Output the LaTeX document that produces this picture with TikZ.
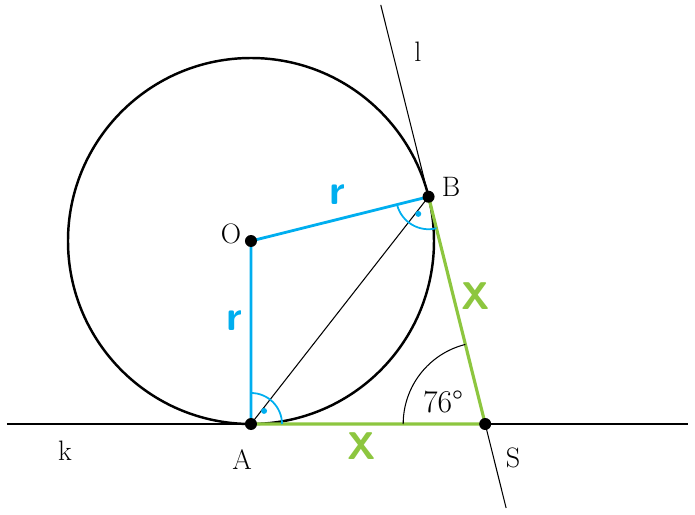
\documentclass[tikz,border=0pt]{standalone}
\usetikzlibrary{calc}
\definecolor{radblue}{RGB}{0,174,239}
\definecolor{tangreen}{RGB}{141,198,63}
\tikzset{
  pt/.style={circle,fill=black,inner sep=0pt,minimum size=2.4mm},
  lbl/.style={font=\fontsize{16}{18}\selectfont},
  thinline/.style={line width=0.6pt},
  rmark/.style={text=radblue,font=\fontsize{24}{24}\selectfont\sffamily\bfseries},
  xmark/.style={text=tangreen,font=\fontsize{22}{22}\selectfont\sffamily\bfseries},
}
\begin{document}
\begin{tikzpicture}
    \useasboundingbox (-5.02,-5.48) rectangle (8.88,4.82);

    \coordinate (O) at (0,0);
    \coordinate (A) at (0,-3.66);
    \coordinate (B) at (14:3.66);
    \coordinate (S) at (4.684,-3.66);
    \coordinate (k1) at (-4.88,-3.66);
    \coordinate (k2) at (8.74,-3.66);
    \coordinate (l1) at ($(S)!1.844!(B)$);
    \coordinate (l2) at ($(S)!-0.3696!(B)$);

    \draw[line width=1.4pt] (O) circle (3.66);
    \draw[thinline] (k1) -- (k2);
    \draw[thinline] (l1) -- (l2);
    \draw[thinline] (A) -- (B);

    \draw[radblue,line width=1.6pt] (A) -- (O) -- (B);
    \draw[tangreen,line width=1.8pt] (A) -- (S) -- (B);

    % right angles and the angle at S
    \draw[radblue,line width=1pt] ($(A)+(0.62,0)$) arc (0:90:0.62);
    \fill[radblue] ($(A)+(45:0.37)$) circle (0.06);
    \draw[radblue,line width=1pt] ($(B)+(194:0.65)$) arc (194:284:0.65);
    \fill[radblue] ($(B)+(239:0.4)$) circle (0.06);
    \draw[thinline] ($(S)+(104:1.64)$) arc (104:180:1.64);

    \node[pt] (dO) at (O) {};
    \node[pt] (dA) at (A) {};
    \node[pt] (dB) at (B) {};
    \node[pt] (dS) at (S) {};

    \node[lbl] (labO) at (-0.4,0.14) {O};
    \node[lbl] (labA) at (-0.18,-4.38) {A};
    \node[lbl] (labB) at (4.0,1.08) {B};
    \node[lbl] (labS) at (5.24,-4.34) {S};
    \node[lbl] (labk) at (-3.72,-4.2) {k};
    \node[lbl] (labl) at (3.34,3.78) {l};
    \node[lbl,font=\fontsize{18}{20}\selectfont] (ang) at (3.84,-3.22) {76°};

    \node[rmark] (r1) at (1.72,0.92) {r};
    \node[rmark] (r2) at (-0.34,-1.6) {r};
    \node[xmark] (x1) at (4.5,-1.1) {X};
    \node[xmark] (x2) at (2.22,-4.1) {X};

\end{tikzpicture}
\end{document}
